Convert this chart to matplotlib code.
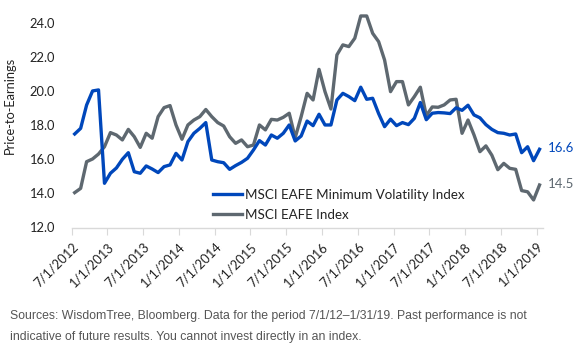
import matplotlib
matplotlib.use('Agg')
import matplotlib.pyplot as plt
import numpy as np

tick_labels = ['7/1/2012', '1/1/2013', '7/1/2013', '1/1/2014', '7/1/2014', '1/1/2015',
               '7/1/2015', '1/1/2016', '7/1/2016', '1/1/2017', '7/1/2017', '1/1/2018',
               '7/1/2018', '1/1/2019']

series_names = ['MSCI EAFE Minimum Volatility Index', 'MSCI EAFE Index']

min_vol = [17.50, 17.83, 19.20, 20.03, 20.09, 14.60, 15.19, 15.50, 16.01, 16.40,
           15.28, 15.19, 15.62, 15.44, 15.23, 15.58, 15.68, 16.36, 15.97, 17.05,
           17.54, 17.83, 18.17, 15.97, 15.87, 15.81, 15.42, 15.64, 15.83, 16.07,
           16.56, 17.11, 16.85, 17.44, 17.25, 17.54, 18.03, 17.09, 17.38, 18.26,
           17.99, 18.66, 18.03, 18.03, 19.50, 19.89, 19.70, 19.46, 20.25, 19.54,
           19.60, 18.70, 17.93, 18.37, 17.99, 18.17, 18.05, 18.42, 19.35, 18.34,
           18.72, 18.76, 18.74, 18.70, 19.04, 18.89, 19.19, 18.62, 18.45, 18.05,
           17.77, 17.58, 17.54, 17.44, 17.50, 16.40, 16.75, 15.93, 16.60]

eafe = [14.05, 14.30, 15.87, 16.03, 16.32, 16.75, 17.58, 17.44, 17.15, 17.77,
        17.34, 16.71, 17.54, 17.25, 18.52, 19.05, 19.17, 18.03, 17.19, 18.03,
        18.32, 18.52, 18.94, 18.52, 18.17, 17.97, 17.34, 16.95, 17.15, 16.75,
        16.85, 18.03, 17.74, 18.36, 18.32, 18.48, 18.72, 17.28, 18.52, 19.89,
        19.50, 21.30, 19.99, 18.97, 22.15, 22.74, 22.64, 23.13, 24.44, 24.44,
        23.42, 22.93, 21.85, 19.99, 20.58, 20.58, 19.21, 19.70, 20.25, 18.58,
        19.09, 19.07, 19.21, 19.50, 19.54, 17.54, 18.32, 17.45, 16.46, 16.80,
        16.25, 15.40, 15.77, 15.48, 15.42, 14.17, 14.10, 13.62, 14.50]

y_ticks = [12, 14, 16, 18, 20, 22, 24]

BLUE = '#0047BB'
GRAY = '#5E6870'
FONT = 'Lato'

fig = plt.figure(figsize=(5.75, 3.5), dpi=100)
ax = fig.add_axes([0.1247, 0.35, 0.8188, 0.583])

x = np.arange(len(min_vol))
ax.plot(x, min_vol, color=BLUE, lw=2.4, label=series_names[0], clip_on=False,
        solid_joinstyle='round', zorder=3)
ax.plot(x, eafe, color=GRAY, lw=2.4, label=series_names[1], clip_on=False,
        solid_joinstyle='round', zorder=2)

ax.set_xlim(-0.5, len(min_vol) - 0.5)
ax.set_ylim(12, 24)
ax.set_yticks(y_ticks)
ax.set_yticklabels([f'{v:.1f}' for v in y_ticks], fontsize=9.3, family=FONT, color='#222222')
ax.set_xticks(np.arange(len(tick_labels)) * 6 - 0.5)
ax.set_xticklabels(tick_labels, rotation=45, ha='right', va='top',
                   rotation_mode='anchor', fontsize=9.3, family=FONT, color='#222222')

for s in ['top', 'right', 'left']:
    ax.spines[s].set_visible(False)
ax.spines['bottom'].set_color('#D9D9D9')
ax.spines['bottom'].set_linewidth(1.0)
ax.tick_params(axis='x', length=5, color='#D9D9D9', pad=4)
ax.tick_params(axis='y', length=0, pad=12)

leg = ax.legend(loc='upper left', bbox_to_anchor=(0.30, 0.19), frameon=False,
                borderpad=0, borderaxespad=0, handlelength=2.2, handletextpad=0.2,
                labelspacing=0.6, prop={'family': FONT, 'size': 9.6})
for t in leg.get_texts():
    t.set_color('#222222')

ax.annotate(f'{min_vol[-1]:.1f}', xy=(x[-1], min_vol[-1]), xytext=(6, 1),
            textcoords='offset points', va='center', ha='left', color=BLUE,
            fontsize=9.5, family=FONT)
ax.annotate(f'{eafe[-1]:.1f}', xy=(x[-1], eafe[-1]), xytext=(6, 1),
            textcoords='offset points', va='center', ha='left', color=GRAY,
            fontsize=9.5, family=FONT)

fig.text(0.018, 0.70, 'Price-to-Earnings', rotation=90, va='center', ha='center',
         fontsize=9.3, family=FONT, color='#222222')

fig.text(0.017, 0.097,
         'Sources: WisdomTree, Bloomberg. Data for the period 7/1/12\u20131/31/19. Past performance is not',
         fontsize=8.8, family='Liberation Sans', color='#555555', va='center', ha='left')
fig.text(0.017, 0.037,
         'indicative of future results. You cannot invest directly in an index.',
         fontsize=8.8, family='Liberation Sans', color='#555555', va='center', ha='left')

fig.savefig('out.png', dpi=100)
